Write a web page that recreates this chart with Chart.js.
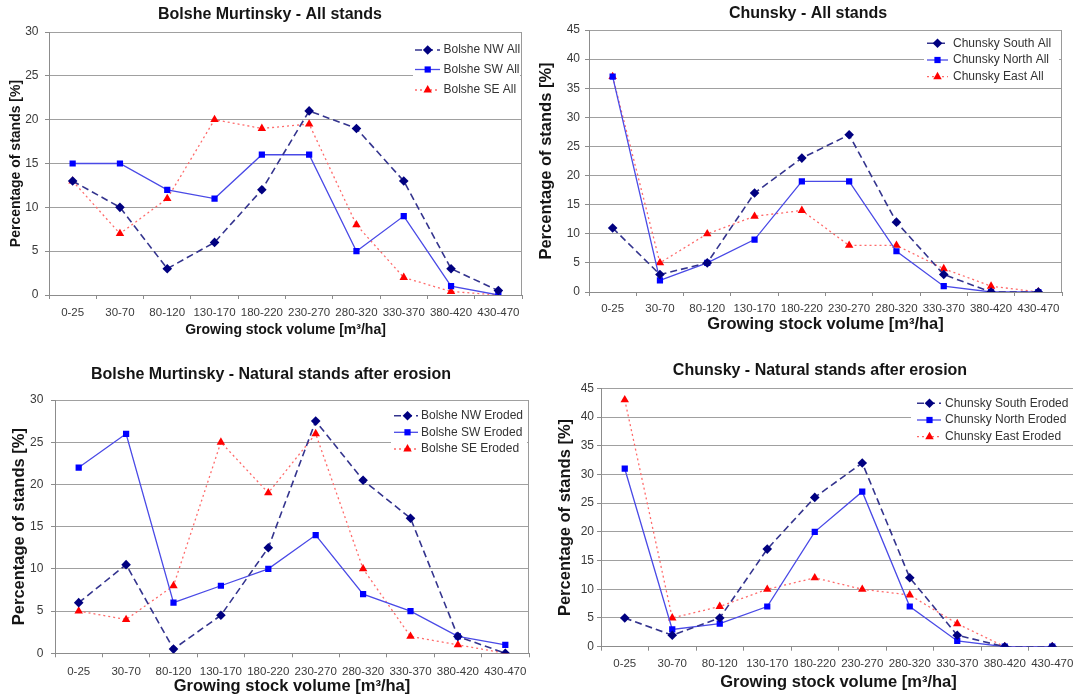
<!DOCTYPE html>
<html><head><meta charset="utf-8">
<script src="https://cdn.jsdelivr.net/npm/chart.js@4.4.1/dist/chart.umd.min.js"></script>
<style>
html,body{margin:0;padding:0;background:#fff;overflow:hidden;}
#wrap{position:relative;width:1073px;height:700px;overflow:hidden;background:#fff;}
#wrap canvas{position:absolute;}
</style></head>
<body><div id="wrap">
<canvas id="c1"></canvas><canvas id="c2"></canvas><canvas id="c3"></canvas><canvas id="c4"></canvas>
</div>
<script>
// ---- data ----
const categories = ['0-25','30-70','80-120','130-170','180-220','230-270','280-320','330-370','380-420','430-470'];

const bolsheNWAll = [13, 10, 3, 6, 12, 21, 19, 13, 3, 0.5];
const bolsheSWAll = [15, 15, 12, 11, 16, 16, 5, 9, 1, 0];
const bolsheSEAll = [13, 7, 11, 20, 19, 19.5, 8, 2, 0.4, 0];

const chunskySouthAll = [11, 3, 5, 17, 23, 27, 12, 3, 0, 0];
const chunskyNorthAll = [37, 2, 5, 9, 19, 19, 7, 1, 0, 0];
const chunskyEastAll  = [37, 5, 10, 13, 14, 8, 8, 4, 1, 0];

const bolsheNWEroded = [6, 10.5, 0.5, 4.5, 12.5, 27.5, 20.5, 16, 2, 0];
const bolsheSWEroded = [22, 26, 6, 8, 10, 14, 7, 5, 2, 1];
const bolsheSEEroded = [5, 4, 8, 25, 19, 26, 10, 2, 1, 0];

const chunskySouthEroded = [5, 2, 5, 17, 26, 32, 12, 2, 0, 0];
const chunskyNorthEroded = [31, 3, 4, 7, 20, 27, 7, 1, 0, 0];
const chunskyEastEroded  = [43, 5, 7, 10, 12, 10, 9, 4, 0, 0];

const yTickStep = 5;
const xAxisTitle = 'Growing stock volume [m³/ha]';
const yAxisTitle = 'Percentage of stands [%]';

// ---- styles ----
const FONT = '"Liberation Sans", Arial, Helvetica, sans-serif';
const STYLES = {
  dash: {borderColor:'#34348e', borderWidth:1.6, borderDash:[7,4], pointStyle:'rectRot', pointRadius:4.8,
         pointBackgroundColor:'#000080', pointBorderColor:'#000080', pointBorderWidth:0},
  solid:{borderColor:'#4a4ae6', borderWidth:1.3, borderDash:[], pointStyle:'rect', pointRadius:4.4,
         pointBackgroundColor:'#0000ff', pointBorderColor:'#0000ff', pointBorderWidth:0},
  dot:  {borderColor:'#ff6a6a', borderWidth:1.3, borderDash:[2,3], pointStyle:'triangle', pointRadius:4.9,
         pointBackgroundColor:'#ff0000', pointBorderColor:'#ff0000', pointBorderWidth:0}
};

function drawMarker(ctx, style, x, y, r, color){
  ctx.save();
  ctx.fillStyle = color;
  ctx.beginPath();
  if (style === 'rectRot') {
    ctx.moveTo(x, y - r); ctx.lineTo(x + r, y); ctx.lineTo(x, y + r); ctx.lineTo(x - r, y);
  } else if (style === 'rect') {
    const s = r * Math.SQRT1_2; ctx.rect(x - s, y - s, 2 * s, 2 * s);
  } else {
    for (let k = 0; k < 3; k++) {
      const a = k * 2 * Math.PI / 3;
      const px = x + Math.sin(a) * r, py = y - Math.cos(a) * r;
      if (k === 0) ctx.moveTo(px, py); else ctx.lineTo(px, py);
    }
  }
  ctx.closePath(); ctx.fill(); ctx.restore();
}

function makeChart(id, g, title, series, yMax){
  const cv = document.getElementById(id);
  cv.width = g.w; cv.height = g.h;
  cv.style.left = g.left + 'px'; cv.style.top = g.top + 'px';
  cv.style.width = g.w + 'px'; cv.style.height = g.h + 'px';

  const tickFont = 11.5, yTickFont = 12;
  const axLH = g.axisFont * 1.2;
  const yw = g.L - g.left;
  const dummyW = (g.left + g.w) - g.R;
  const titlePadT = (g.titleY - g.top) - 9.6;
  const titlePadB = (g.T - g.top) - titlePadT - 19.2;
  const xh = (g.top + g.h) - g.B;
  const xTickPad = g.tickY - g.B - 4 - tickFont * 1.2 / 2;
  const xTitlePadB = (g.top + g.h) - g.xTitleY - axLH / 2;
  const yTitlePadT = (g.yTitleX - g.left) - axLH / 2;
  const yTickPad = g.L - 4 - g.yTickRight;

  const lg = g.legend;
  const legendPlugin = {
    id: 'boxLegend' + id,
    afterDatasetsDraw(chart){
      const ctx = chart.ctx, ox = g.left, oy = g.top;
      ctx.save();
      ctx.fillStyle = '#ffffff';
      ctx.fillRect(lg.x0 - ox, lg.y0 - oy, lg.x1 - lg.x0, lg.y1 - lg.y0);
      chart.data.datasets.forEach((ds, i) => {
        const y = lg.rows[i] - oy;
        ctx.save();
        ctx.strokeStyle = ds.borderColor; ctx.lineWidth = ds.borderWidth;
        ctx.setLineDash(ds.borderDash || []);
        ctx.beginPath(); ctx.moveTo(lg.l0 - ox, y); ctx.lineTo(lg.l1 - ox, y); ctx.stroke();
        ctx.restore();
        drawMarker(ctx, ds.pointStyle, lg.mx - ox, y, ds.pointRadius, ds.pointBackgroundColor);
        ctx.fillStyle = '#333333';
        ctx.font = '12px ' + FONT;
        ctx.textAlign = 'left'; ctx.textBaseline = 'middle';
        ctx.fillText(ds.label, lg.tx - ox, y);
      });
      ctx.restore();
    }
  };
  const framePlugin = {
    id: 'frame' + id,
    beforeDatasetsDraw(chart){
      const a = chart.chartArea, ctx = chart.ctx;
      ctx.save();
      ctx.strokeStyle = '#9a9a9a'; ctx.lineWidth = 1;
      ctx.beginPath();
      ctx.moveTo(Math.round(a.right) - 0.5, a.top); ctx.lineTo(Math.round(a.right) - 0.5, a.bottom);
      ctx.stroke();
      ctx.restore();
    }
  };

  return new Chart(cv, {
    type: 'line',
    data: {
      labels: categories,
      datasets: series.map(s => Object.assign({label: s.label, data: s.data, fill: false, tension: 0}, STYLES[s.kind]))
    },
    options: {
      responsive: false, animation: false, devicePixelRatio: 1,
      layout: {padding: {left: 0, right: 0, top: 0, bottom: 0}},
      plugins: {
        legend: {display: false},
        tooltip: {enabled: false},
        title: {display: true, text: title, color: '#151515',
                font: {family: FONT, size: 16, weight: 'bold', lineHeight: 1.2},
                padding: {top: titlePadT, bottom: titlePadB}}
      },
      scales: {
        x: {
          type: 'category', offset: true,
          grid: {display: true, offset: true, drawOnChartArea: false, drawTicks: true, tickLength: 4, color: '#8c8c8c'},
          border: {display: true, color: '#8c8c8c', width: 1},
          ticks: {color: '#3a3a3a', font: {family: FONT, size: tickFont}, padding: xTickPad,
                  maxRotation: 0, minRotation: 0, autoSkip: false},
          title: {display: true, text: xAxisTitle, color: '#151515',
                  font: {family: FONT, size: g.axisFont, weight: 'bold', lineHeight: 1.2},
                  padding: {top: 0, bottom: xTitlePadB}},
          afterFit: s => { s.height = xh; }
        },
        y: {
          type: 'linear', position: 'left', min: 0, max: yMax,
          ticks: {stepSize: yTickStep, color: '#3a3a3a', font: {family: FONT, size: yTickFont}, padding: yTickPad},
          grid: {color: '#a0a0a0', lineWidth: 1, drawTicks: true, tickLength: 4, tickColor: '#8c8c8c'},
          border: {display: true, color: '#8c8c8c', width: 1},
          title: {display: true, text: yAxisTitle, color: '#151515',
                  font: {family: FONT, size: g.axisFont, weight: 'bold', lineHeight: 1.2},
                  padding: {top: yTitlePadT, bottom: 0}},
          afterFit: s => { s.width = yw; }
        },
        yRight: {
          type: 'linear', position: 'right', display: true,
          grid: {display: false, drawTicks: false}, border: {display: false},
          ticks: {display: false}, title: {display: false},
          afterFit: s => { s.width = dummyW; }
        }
      }
    },
    plugins: [framePlugin, legendPlugin]
  });
}

// ---- layout (page coordinates) ----
const G1 = {left:0, top:0, w:540, h:345, L:49, R:522, T:32, B:295, titleY:15, tickY:313.3, xTitleY:330,
  yTitleX:16, yTickRight:38.5, axisFont:14,
  legend:{x0:413, y0:38, x1:520, y1:102, l0:415, l1:440, mx:427.7, tx:443.5, rows:[50, 69.5, 90]}};
const G2 = {left:530, top:0, w:556, h:345, L:589, R:1062, T:30, B:292, titleY:13.3, tickY:309.3, xTitleY:324.3,
  yTitleX:546, yTickRight:580, axisFont:16.5,
  legend:{x0:924, y0:33, x1:1059, y1:86, l0:927, l1:948, mx:937.5, tx:953, rows:[43.3, 60, 76.7]}};
const G3 = {left:0, top:345, w:542, h:355, L:55, R:529, T:400, B:653.3, titleY:375, tickY:671.7, xTitleY:686.7,
  yTitleX:19.5, yTickRight:43.3, axisFont:16.5,
  legend:{x0:391, y0:405, x1:527, y1:458, l0:394, l1:418, mx:407.5, tx:421, rows:[415.7, 432.3, 449]}};
const G4 = {left:550, top:345, w:540, h:355, L:601, R:1076, T:388.3, B:646.7, titleY:370.7, tickY:664, xTitleY:682.3,
  yTitleX:565, yTickRight:594, axisFont:16.5,
  legend:{x0:911, y0:393, x1:1073, y1:444, l0:917, l1:941, mx:929.5, tx:945, rows:[403.3, 420, 436.7]}};

makeChart('c1', G1, 'Bolshe Murtinsky - All stands', [
  {label:'Bolshe NW All', data:bolsheNWAll, kind:'dash'},
  {label:'Bolshe SW All', data:bolsheSWAll, kind:'solid'},
  {label:'Bolshe SE All', data:bolsheSEAll, kind:'dot'}], 30);

makeChart('c2', G2, 'Chunsky - All stands', [
  {label:'Chunsky South All', data:chunskySouthAll, kind:'dash'},
  {label:'Chunsky North All', data:chunskyNorthAll, kind:'solid'},
  {label:'Chunsky East All', data:chunskyEastAll, kind:'dot'}], 45);

makeChart('c3', G3, 'Bolshe Murtinsky - Natural stands after erosion', [
  {label:'Bolshe NW Eroded', data:bolsheNWEroded, kind:'dash'},
  {label:'Bolshe SW Eroded', data:bolsheSWEroded, kind:'solid'},
  {label:'Bolshe SE Eroded', data:bolsheSEEroded, kind:'dot'}], 30);

makeChart('c4', G4, 'Chunsky - Natural stands after erosion', [
  {label:'Chunsky South Eroded', data:chunskySouthEroded, kind:'dash'},
  {label:'Chunsky North Eroded', data:chunskyNorthEroded, kind:'solid'},
  {label:'Chunsky East Eroded', data:chunskyEastEroded, kind:'dot'}], 45);
</script>
</body></html>
